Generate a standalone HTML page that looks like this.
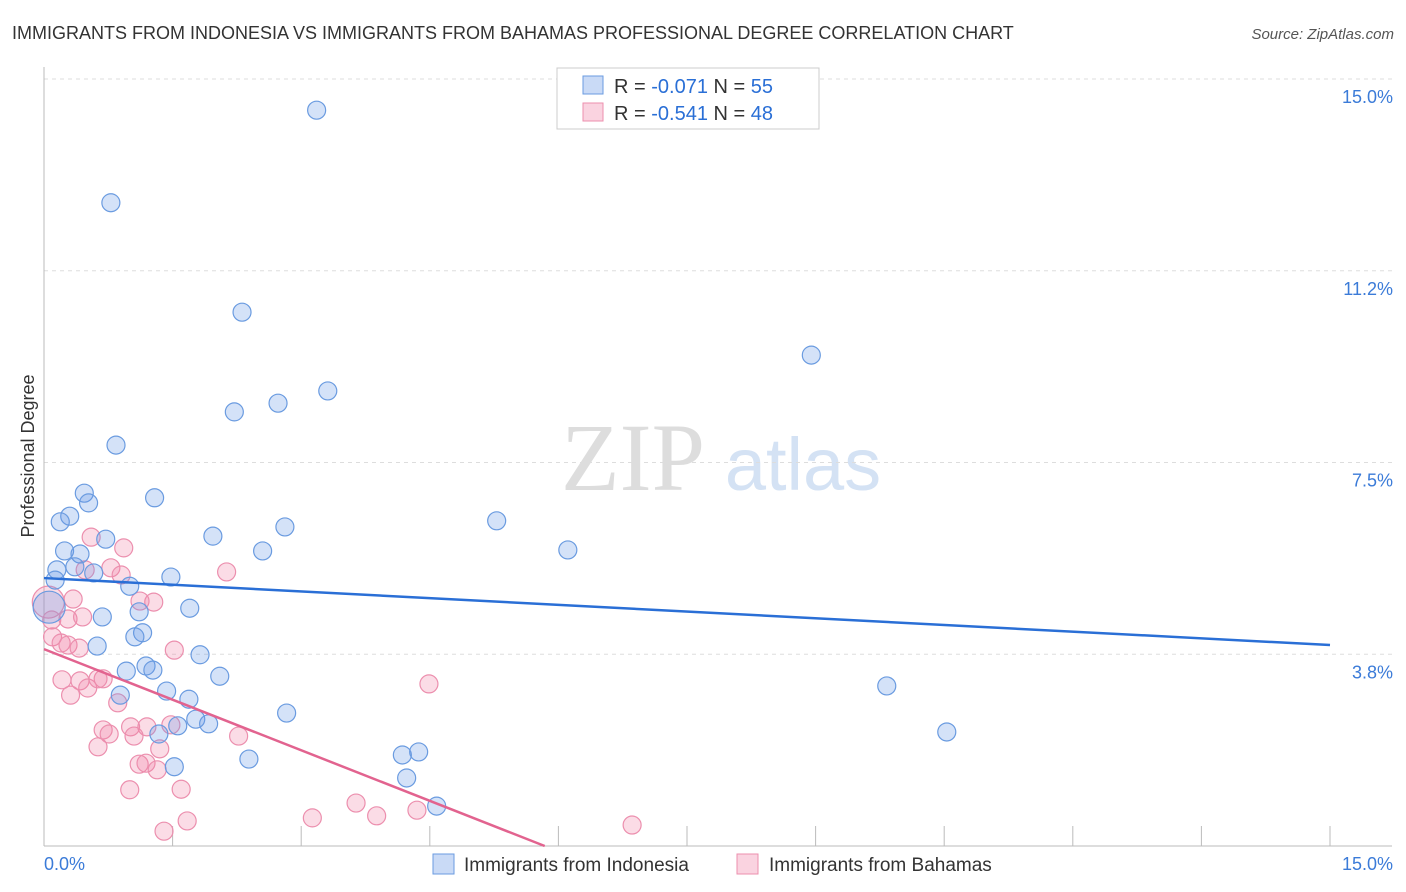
<!DOCTYPE html>
<html><head><meta charset="utf-8"><style>
body{margin:0;background:#fff;font-family:"Liberation Sans",sans-serif;}
svg{display:block}
</style></head><body>
<svg id="chart" width="1406" height="892">
<text x="12" y="39" font-size="18" fill="#333">IMMIGRANTS FROM INDONESIA VS IMMIGRANTS FROM BAHAMAS PROFESSIONAL DEGREE CORRELATION CHART</text>
<text x="1394" y="39" font-size="15" fill="#555" font-style="italic" text-anchor="end">Source: ZipAtlas.com</text>
<g>
<text x="633" y="490" font-size="96" fill="#ddd" font-family="Liberation Serif,serif" text-anchor="middle">ZIP</text>
<text x="803" y="490" font-size="74" fill="#d4e2f4" text-anchor="middle">atlas</text>
</g>
<g id="grid"></g>
<g id="axes"></g>
<g id="marks"></g>
<text transform="translate(34,456) rotate(-90)" font-size="18" fill="#333" text-anchor="middle">Professional Degree</text>
<g>
<rect x="557" y="68" width="262" height="61" fill="#fff" stroke="#ccc"/>
<rect x="583" y="76" width="20" height="18" fill="rgba(100,150,230,0.35)" stroke="#6a9be0"/>
<rect x="583" y="103" width="20" height="18" fill="rgba(240,130,165,0.35)" stroke="#ec8fae"/>
<text x="614" y="93" font-size="20" fill="#333">R = <tspan fill="#2a6fd6">-0.071</tspan>   N = <tspan fill="#2a6fd6">55</tspan></text>
<text x="614" y="120" font-size="20" fill="#333">R = <tspan fill="#2a6fd6">-0.541</tspan>   N = <tspan fill="#2a6fd6">48</tspan></text>
</g>
<g>
<rect x="433" y="854" width="21" height="20" fill="rgba(100,150,230,0.35)" stroke="#6a9be0"/>
<text x="464" y="871" font-size="19" fill="#333">Immigrants from Indonesia</text>
<rect x="737" y="854" width="21" height="20" fill="rgba(240,130,165,0.35)" stroke="#ec8fae"/>
<text x="769" y="871" font-size="19" fill="#333">Immigrants from Bahamas</text>
</g>
</svg>
<script>
const yTicks=[3.75,7.5,11.25,15];
const yTickLabels=["3.8%","7.5%","11.2%","15.0%"];
const xTickCount=10;
const blueX=[3.18,0.78,2.31,8.95,3.31,2.73,2.22,0.84,0.47,1.29,0.52,0.30,0.19,5.28,2.81,1.97,0.72,6.11,2.55,0.24,0.42,0.15,0.36,0.58,1.48,0.13,1.00,1.70,1.11,0.68,1.15,1.06,0.62,1.82,1.19,1.27,0.96,2.05,1.43,9.83,1.69,0.89,2.83,1.77,1.92,1.56,1.34,10.53,4.37,4.18,2.39,1.52,4.23,4.58,0.06];
const blueY=[14.39,12.58,10.44,9.60,8.90,8.66,8.49,7.84,6.90,6.81,6.71,6.45,6.34,6.36,6.24,6.06,6.00,5.79,5.77,5.77,5.71,5.40,5.46,5.34,5.26,5.20,5.08,4.65,4.58,4.48,4.17,4.09,3.91,3.74,3.52,3.44,3.42,3.32,3.03,3.13,2.87,2.95,2.60,2.48,2.39,2.35,2.19,2.23,1.84,1.78,1.70,1.55,1.33,0.78,4.67];
const pinkX=[0.55,0.93,2.13,0.78,0.48,0.90,0.34,1.28,1.12,0.05,0.09,0.28,0.45,0.10,0.20,0.28,0.41,1.52,0.21,0.42,0.69,0.51,0.63,4.49,0.31,0.86,0.69,1.01,0.76,1.20,1.48,2.27,1.05,0.63,1.35,1.11,1.19,1.32,1.00,1.60,3.64,4.35,3.13,3.88,1.67,1.40,6.86];
const pinkY=[6.04,5.83,5.36,5.44,5.40,5.30,4.83,4.77,4.79,4.77,4.42,4.44,4.48,4.09,3.97,3.93,3.87,3.83,3.25,3.23,3.27,3.09,3.27,3.17,2.95,2.80,2.27,2.33,2.19,2.33,2.37,2.15,2.15,1.94,1.90,1.60,1.62,1.49,1.10,1.11,0.84,0.70,0.55,0.59,0.49,0.29,0.41];
const blueTrend=[5.24,3.93]; // y at x=0 and x=15
const pinkTrend=[3.85,0,5.84]; // y at x=0, reaches 0 at x=5.84
const NS="http://www.w3.org/2000/svg";
const X0=44,X1=1330,Y0=846,Y1=79;
const sx=v=>X0+v/15*(X1-X0), sy=v=>Y0-v/15*(Y0-Y1);
function mk(t,a,p){const e=document.createElementNS(NS,t);for(const k in a)e.setAttribute(k,a[k]);p.appendChild(e);return e;}
const grid=document.getElementById('grid'),axes=document.getElementById('axes'),marks=document.getElementById('marks');
yTicks.forEach((v,i)=>{
 const l=mk('line',{x1:X0,x2:1392,y1:sy(v),y2:sy(v),stroke:'#ddd','stroke-dasharray':'4,4'},grid);
 
 
 const t=mk('text',{x:1393,y:sy(v)+24,'font-size':18,fill:'#3b7bd8','text-anchor':'end'},axes);
 t.textContent=yTickLabels[i];
 
 
});
const ya=mk('line',{x1:X0,x2:X0,y1:67,y2:Y0,stroke:'#bbb'},axes);


const xa=mk('line',{x1:X0,x2:1392,y1:Y0,y2:Y0,stroke:'#bbb'},axes);


for(let i=1;i<=xTickCount;i++){const x=sx(15*i/xTickCount);
 const tk=mk('line',{x1:x,x2:x,y1:Y0-20,y2:Y0,stroke:'#bbb'},axes);
 
 }
const xl0=mk('text',{x:44,y:870,'font-size':18,fill:'#3b7bd8'},axes);xl0.textContent='0.0%';


const xl1=mk('text',{x:1393,y:870,'font-size':18,fill:'#3b7bd8','text-anchor':'end'},axes);xl1.textContent='15.0%';


function pts(xs,ys,fill,stroke,name){xs.forEach((v,i)=>{
 const big=(i===xs.length-1&&name==='indonesia-point')||(name==='bahamas-point'&&i===9);
 const c=mk('circle',{cx:sx(v),cy:sy(ys[i]),r:big?16:9,fill:fill,stroke:stroke,'stroke-width':1.2},marks);
 
 });}
pts(pinkX,pinkY,'rgba(240,130,165,0.28)','#ec8fae','bahamas-point');
pts(blueX,blueY,'rgba(100,150,230,0.28)','#6a9be0','indonesia-point');
const bt=mk('line',{x1:sx(0),y1:sy(blueTrend[0]),x2:sx(15),y2:sy(blueTrend[1]),stroke:'#2a6fd6','stroke-width':2.5},marks);


const pt=mk('line',{x1:sx(0),y1:sy(pinkTrend[0]),x2:sx(pinkTrend[2]),y2:sy(pinkTrend[1]),stroke:'#e2638f','stroke-width':2.5},marks);


</script>
</body></html>
